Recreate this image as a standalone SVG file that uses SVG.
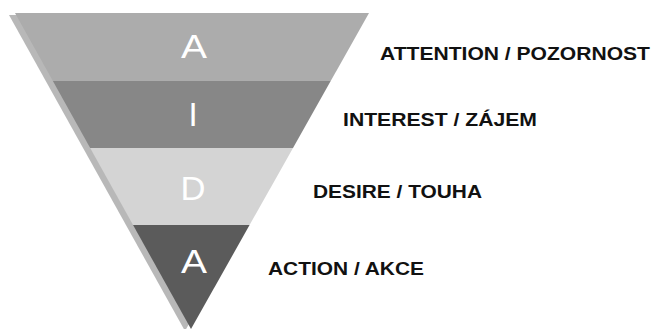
<svg xmlns="http://www.w3.org/2000/svg" width="652" height="329" viewBox="0 0 652 329">
<defs>
<clipPath id="funnel"><polygon points="15,13 369,13 191,329"/></clipPath>
<style>
.letter{font-family:"Liberation Sans",Arial,sans-serif;font-size:33px;fill:#ffffff;text-anchor:middle}
.label{font-family:"Liberation Sans",Arial,sans-serif;font-size:18px;font-weight:bold;fill:#111111}
</style>
</defs>
<rect width="652" height="329" fill="#ffffff"/>
<polygon id="shadow" points="15,13 369,13 191,329" fill="#b8b8b8" transform="translate(-6,2)"/>
<g clip-path="url(#funnel)">
<g id="band-attention"><rect x="0" y="13" width="400" height="68" fill="#acacac"/></g>
<g id="band-interest"><rect x="0" y="81" width="400" height="67" fill="#878787"/></g>
<g id="band-desire"><rect x="0" y="148" width="400" height="77" fill="#d4d4d4"/></g>
<g id="band-action"><rect x="0" y="225" width="400" height="110" fill="#5b5b5b"/></g>
</g>
<g id="letters">
<text class="letter" x="194" y="58" textLength="26" lengthAdjust="spacingAndGlyphs">A</text>
<text class="letter" x="193" y="126">I</text>
<text class="letter" x="193" y="200" textLength="25" lengthAdjust="spacingAndGlyphs">D</text>
<text class="letter" x="194" y="273" textLength="26" lengthAdjust="spacingAndGlyphs">A</text>
</g>
<g id="labels">
<text class="label" x="380" y="60" textLength="270" lengthAdjust="spacingAndGlyphs">ATTENTION / POZORNOST</text>
<text class="label" x="343" y="126" textLength="194" lengthAdjust="spacingAndGlyphs">INTEREST / ZÁJEM</text>
<text class="label" x="313" y="198" textLength="169" lengthAdjust="spacingAndGlyphs">DESIRE / TOUHA</text>
<text class="label" x="268" y="275" textLength="156" lengthAdjust="spacingAndGlyphs">ACTION / AKCE</text>
</g>
<g id="connectors"></g>
</svg>
